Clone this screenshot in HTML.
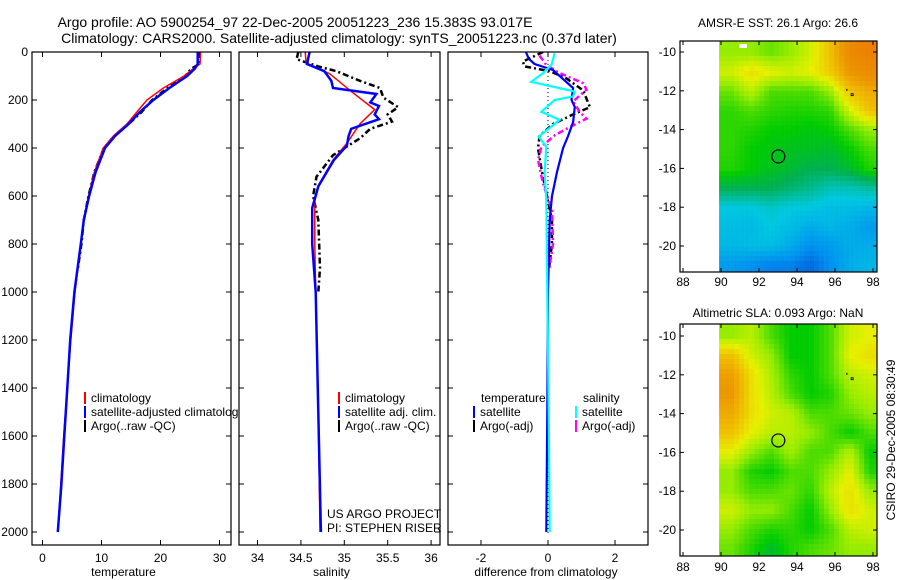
<!DOCTYPE html>
<html><head><meta charset="utf-8"><style>
html,body{margin:0;padding:0;background:#fff;}
svg{display:block;font-family:"Liberation Sans",sans-serif;}
</style></head><body>
<svg id="chart" width="900" height="580" viewBox="0 0 900 580" xmlns="http://www.w3.org/2000/svg">
<text x="295" y="27" font-size="14" text-anchor="middle">Argo profile: AO 5900254_97 22-Dec-2005 20051223_236 15.383S 93.017E</text>
<text x="339" y="43" font-size="14" text-anchor="middle">Climatology: CARS2000. Satellite-adjusted climatology: synTS_20051223.nc (0.37d later)</text>
<text x="778" y="27" font-size="12" text-anchor="middle">AMSR-E SST: 26.1 Argo: 26.6</text>
<text x="778" y="317" font-size="12" text-anchor="middle">Altimetric SLA: 0.093 Argo: NaN</text>
<text transform="translate(895,440) rotate(-90)" font-size="12" text-anchor="middle">CSIRO 29-Dec-2005 08:30:49</text>
<g id="plots"></g>
</svg>
<script>
// ---- data ----
const depthT = [0,50,70,100,150,200,250,300,350,400,500,600,700,800,1000,1200,1400,1600,1800,2000];
const climT  = [26.8,26.7,25.5,24,20.5,17.7,16,14.3,12,10.3,8.8,7.8,7.0,6.5,5.5,4.8,4.2,3.6,3.1,2.6];
const satT   = [26.3,26.3,25.8,24.5,21.5,18.8,16.5,14.6,12.3,10.6,9.0,7.9,7.0,6.5,5.4,4.7,4.2,3.7,3.2,2.6];
const depthArgoT = [0,50,70,100,150,200,250,300,350,400,500,600,700,800,900];
const argoT  = [26.6,26.6,25.2,24.2,21.2,18.6,16.8,14.6,12.2,10.4,8.8,7.8,7.0,6.6,6.0];

const depthS = [0,45,90,170,240,300,380,450,550,620,800,1000,1500,2000];
const climS  = [34.55,34.56,34.83,35.1,35.35,35.18,35.03,34.87,34.71,34.66,34.66,34.67,34.7,34.72];
const depthSatS = [0,50,80,120,150,175,210,225,260,280,320,350,390,450,560,650,800,1000,1500,2000];
const satS   = [34.6,34.57,34.77,34.85,34.87,35.37,35.3,35.4,35.35,35.4,35.08,35.05,35.03,34.88,34.7,34.63,34.63,34.67,34.7,34.73];
const depthArgoS = [0,30,60,80,120,150,190,230,260,290,320,360,430,520,600,700,900,1000];
const argoS  = [34.47,34.45,34.7,34.91,35.18,35.41,35.45,35.62,35.5,35.55,35.3,35.18,34.87,34.68,34.64,34.7,34.72,34.7];

const depthDTsat = [0,29,50,75,150,200,229,292,350,400,500,600,700,1000,1500,2000];
const dTsat  = [-0.66,-0.57,-0.4,0.15,0.75,0.7,0.8,0.75,0.6,0.45,0.27,0.12,0.05,0.0,-0.02,-0.05];
const depthDTargo = [0,40,60,80,110,160,230,260,300,350,400,500,600,700,800,900];
const dTargo = [-0.15,-0.75,-0.7,0.05,0.55,1.05,1.25,0.75,0.15,-0.25,-0.3,-0.18,-0.03,0.12,0.12,0.03];
const depthDSsat = [5,54,88,124,165,185,200,249,283,353,394,505,617,1000,1500,2000];
const dSsat  = [0.2,0.1,-0.15,-0.5,0.8,0.75,0.2,-0.2,0.35,-0.28,-0.05,-0.1,-0.05,-0.02,0.02,0.05];
const depthDSargo = [15,54,88,130,157,206,250,278,313,347,396,450,547,660,800,910];
const dSargo = [-0.25,-0.05,0.35,1.05,1.15,0.75,0.95,1.15,0.65,0.2,-0.2,-0.3,-0.15,0.12,0.15,0.03];

const depthTicks = [0,200,400,600,800,1000,1200,1400,1600,1800,2000];
const tempTicks = [0,10,20,30];
const salTicks = [34,34.5,35,35.5,36];
const diffTicks = [-2,0,2];
const lonTicks = [88,90,92,94,96,98];
const latTicks = [-10,-12,-14,-16,-18,-20];

const sstGrid = [
[0.55,0.55,0.52,0.55,0.6,0.7,0.85,0.9],
[0.6,0.65,0.62,0.6,0.62,0.68,0.8,0.85],
[0.52,0.58,0.5,0.5,0.5,0.55,0.7,0.75],
[0.48,0.5,0.48,0.47,0.47,0.48,0.6,0.7],
[0.48,0.47,0.45,0.45,0.44,0.45,0.5,0.55],
[0.48,0.45,0.44,0.43,0.43,0.42,0.45,0.5],
[0.47,0.45,0.43,0.42,0.4,0.4,0.42,0.47],
[0.4,0.4,0.4,0.38,0.36,0.33,0.33,0.35],
[0.3,0.3,0.32,0.3,0.3,0.28,0.28,0.27],
[0.28,0.27,0.3,0.28,0.25,0.27,0.25,0.22],
[0.27,0.28,0.28,0.25,0.2,0.22,0.25,0.25],
[0.22,0.2,0.18,0.18,0.15,0.2,0.25,0.27]];
const slaGrid = [
[0.55,0.58,0.5,0.45,0.45,0.5,0.6,0.62],
[0.7,0.6,0.55,0.45,0.45,0.5,0.62,0.65],
[0.78,0.65,0.57,0.48,0.45,0.5,0.58,0.6],
[0.8,0.65,0.58,0.5,0.45,0.47,0.55,0.58],
[0.75,0.65,0.6,0.58,0.5,0.5,0.52,0.55],
[0.7,0.62,0.58,0.58,0.55,0.5,0.45,0.5],
[0.62,0.55,0.5,0.56,0.5,0.5,0.58,0.45],
[0.55,0.47,0.45,0.5,0.5,0.55,0.62,0.47],
[0.55,0.5,0.5,0.52,0.48,0.58,0.65,0.55],
[0.6,0.55,0.55,0.5,0.45,0.55,0.65,0.6],
[0.55,0.5,0.47,0.48,0.45,0.5,0.58,0.6],
[0.52,0.47,0.42,0.47,0.5,0.52,0.55,0.55]];
const argoLon = 93.017, argoLat = -15.383;

// ---- drawing ----
const NS = "http://www.w3.org/2000/svg";
const root = document.getElementById('plots');
function mk(tag, attrs, parent){ const e=document.createElementNS(NS,tag); for(const k in attrs) e.setAttribute(k,attrs[k]); (parent||root).appendChild(e); return e; }
const yD = d => 52 + d*0.24;
const PT = 52, PB = 545;

function panel(name, x0, x1, xs, ticks, label, showY){
  const g = mk('g', {});
  
  
  const bg = mk('rect', {x:x0, y:PT, width:x1-x0, height:PB-PT, fill:'#fff'}, g);
  
  
  const clip = mk('clipPath', {id:'c'+name}, g);
  mk('rect', {x:x0, y:PT, width:x1-x0, height:PB-PT}, clip);
  const inner = mk('g', {'clip-path':'url(#c'+name+')'}, g);
  ticks.forEach(t=>{
    const x = xs(t);
    mk('line',{x1:x,x2:x,y1:PT,y2:PT+5,stroke:'#000'},g);
    mk('line',{x1:x,x2:x,y1:PB,y2:PB-5,stroke:'#000'},g);
    const tx = mk('text',{x:x,y:PB+17,'font-size':12,'text-anchor':'middle'},g);
    tx.textContent = t;
    
    
  });
  depthTicks.forEach(d=>{
    const y = yD(d);
    mk('line',{x1:x0,x2:x0+5,y1:y,y2:y,stroke:'#000'},g);
    mk('line',{x1:x1,x2:x1-5,y1:y,y2:y,stroke:'#000'},g);
    if(showY){
      const tx = mk('text',{x:x0-4,y:y+4,'font-size':12,'text-anchor':'end'},g);
      tx.textContent = d;
      
      
    }
  });
  const lb = mk('text',{x:(x0+x1)/2-(name==='diff-panel'?2:8),y:PB+31,'font-size':12,'text-anchor':'middle'},g);
  lb.textContent = label;
  
  
  return {g, inner};
}
function line(parent, xs, depths, vals, color, w, dash, name){
  const pts = depths.map((d,i)=> xs(vals[i]).toFixed(1)+','+yD(d).toFixed(1)).join(' ');
  const p = mk('polyline',{points:pts, fill:'none', stroke:color, 'stroke-width':w, 'stroke-dasharray':dash||'none'}, parent);
  
  
}
function frame(g,x0,x1){ mk('rect',{x:x0,y:PT,width:x1-x0,height:PB-PT,fill:'none',stroke:'#000','stroke-width':1.2},g); }
function legendRow(g,x,y,color,text,name){
  mk('rect',{x:x,y:y-10,width:2,height:12,fill:color},g);
  const t = mk('text',{x:x+7,y:y,'font-size':12},g);
  t.textContent = text;
  
  
}

// temperature panel
const xT = v => 42.5 + v*5.9;
const p1 = panel('temperature-panel', 32, 231, xT, tempTicks, 'temperature', true);
line(p1.inner, xT, depthArgoT, argoT, '#000', 2.5, '6,3,2,3', 'argo-temperature-line');
line(p1.inner, xT, depthT, climT, '#f00', 1.5, null, 'climatology-temperature-line');
line(p1.inner, xT, depthT, satT, '#0000ff', 2.5, null, 'satellite-temperature-line');
legendRow(p1.g, 84, 402, '#f00', 'climatology', 'legend-climatology');
legendRow(p1.g, 84, 416, '#00f', 'satellite-adjusted climatology', 'legend-satellite-adjusted');
legendRow(p1.g, 84, 430, '#000', 'Argo(..raw -QC)', 'legend-argo');
frame(p1.g,32,231);

// salinity panel
const xS = v => 257.5 + (v-34)*86.8;
const p2 = panel('salinity-panel', 239, 440, xS, salTicks, 'salinity', false);
line(p2.inner, xS, depthArgoS, argoS, '#000', 2.5, '6,3,2,3', 'argo-salinity-line');
line(p2.inner, xS, depthS, climS, '#f00', 1.5, null, 'climatology-salinity-line');
line(p2.inner, xS, depthSatS, satS, '#0000ff', 2.5, null, 'satellite-salinity-line');
legendRow(p2.g, 338, 402, '#f00', 'climatology', 'legend-climatology-sal');
legendRow(p2.g, 338, 416, '#00f', 'satellite adj. clim.', 'legend-satellite-sal');
legendRow(p2.g, 338, 430, '#000', 'Argo(..raw -QC)', 'legend-argo-sal');
const us = mk('text',{x:327,y:518,'font-size':12},p2.g); us.textContent='US ARGO PROJECT';
 
const pi = mk('text',{x:327,y:532,'font-size':12},p2.g); pi.textContent='PI: STEPHEN RISER';
 
frame(p2.g,239,440);

// difference panel
const xDf = v => 548 + v*33.5;
const p3 = panel('diff-panel', 448, 648, xDf, diffTicks, 'difference from climatology', false);
mk('line',{x1:xDf(0),x2:xDf(0),y1:PT,y2:PB-10,stroke:'#000','stroke-dasharray':'1,3'},p3.inner);
line(p3.inner, xDf, depthDTargo, dTargo, '#000', 2.5, '6,3,2,3', 'argo-temp-diff-line');
line(p3.inner, xDf, depthDSargo, dSargo, '#ff00ff', 2.5, '6,3,2,3', 'argo-sal-diff-line');
line(p3.inner, xDf, depthDTsat, dTsat, '#0000ff', 2.2, null, 'satellite-temp-diff-line');
line(p3.inner, xDf, depthDSsat, dSsat, '#00ffff', 2.2, null, 'satellite-sal-diff-line');
const lt = mk('text',{x:481,y:402,'font-size':12},p3.g); lt.textContent='temperature';
 
const ls = mk('text',{x:583,y:402,'font-size':12},p3.g); ls.textContent='salinity';
 
legendRow(p3.g, 473, 416, '#00f', 'satellite', 'legend-temp-satellite');
legendRow(p3.g, 473, 430, '#000', 'Argo(-adj)', 'legend-temp-argo');
legendRow(p3.g, 575, 416, '#0ff', 'satellite', 'legend-sal-satellite');
legendRow(p3.g, 575, 430, '#f0f', 'Argo(-adj)', 'legend-sal-argo');
frame(p3.g,448,648);

// maps
const stops = [[0.1,[0,64,208]],[0.2,[0,144,240]],[0.3,[0,200,224]],[0.4,[0,176,80]],[0.45,[0,204,0]],[0.55,[150,236,0]],[0.62,[230,240,0]],[0.7,[240,192,0]],[0.8,[236,150,0]],[0.9,[236,128,0]]];
function cmap(v){
  if(v<=stops[0][0]) return stops[0][1];
  for(let i=1;i<stops.length;i++){ if(v<=stops[i][0]){ const a=stops[i-1],b=stops[i],t=(v-a[0])/(b[0]-a[0]); return a[1].map((c,k)=>Math.round(c+(b[1][k]-c)*t)); } }
  return stops[stops.length-1][1];
}
function map(name, grid, top, bottom, lat10y, lat20y, labelY){
  const g = mk('g',{});
  
  
  const L=680, R=877;
  const xl = lon => 683 + (lon-88)*19;
  const yl = lat => lat10y + (-10-lat)*(lat20y-lat10y)/10;
  const dx0=xl(89.9), dx1=R, dy0=top, dy1=bottom;
  const nr=grid.length, nc=grid[0].length, cell=5;
  for(let y=dy0;y<dy1;y+=cell){
    for(let x=dx0;x<dx1;x+=cell){
      const fx=Math.min(nc-1.001,Math.max(0,(x-dx0)/(dx1-dx0)*nc-0.5));
      const fy=Math.min(nr-1.001,Math.max(0,(y-dy0)/(dy1-dy0)*nr-0.5));
      const i=Math.floor(fy), j=Math.floor(fx), ty=fy-i, tx=fx-j;
      const v=grid[i][j]*(1-tx)*(1-ty)+grid[i][j+1]*tx*(1-ty)+grid[i+1][j]*(1-tx)*ty+grid[i+1][j+1]*tx*ty;
      const c=cmap(v);
      mk('rect',{x:x,y:y,width:Math.min(cell,dx1-x)+0.3,height:Math.min(cell,dy1-y)+0.3,fill:'rgb('+c+')'},g);
    }
  }
  const c = mk('circle',{cx:xl(argoLon),cy:yl(argoLat),r:6.5,fill:'none',stroke:'#000','stroke-width':1.2},g);
  
  
  mk('rect',{x:xl(96.85),y:yl(-12.2)-1,width:2,height:2,fill:'none',stroke:'#000','stroke-width':0.8},g);
  mk('rect',{x:xl(96.6),y:yl(-11.9),width:1,height:2,fill:'#000'},g);
  lonTicks.forEach(t=>{
    const x=xl(t);
    mk('line',{x1:x,x2:x,y1:top,y2:top+4,stroke:'#000'},g);
    mk('line',{x1:x,x2:x,y1:bottom,y2:bottom-4,stroke:'#000'},g);
    const tx=mk('text',{x:x,y:labelY,'font-size':12,'text-anchor':'middle'},g); tx.textContent=t;
     
  });
  latTicks.forEach(t=>{
    const y=yl(t);
    mk('line',{x1:L,x2:L+4,y1:y,y2:y,stroke:'#000'},g);
    mk('line',{x1:R,x2:R-4,y1:y,y2:y,stroke:'#000'},g);
    const tx=mk('text',{x:L-4,y:y+4,'font-size':12,'text-anchor':'end'},g); tx.textContent=t;
     
  });
  mk('rect',{x:L,y:top,width:R-L,height:bottom-top,fill:'none',stroke:'#000','stroke-width':1.2},g);
}
map('sst-map', sstGrid, 41, 272, 52, 246, 286);
mk('rect',{x:739,y:44,width:8,height:4,fill:'#fff'});
map('sla-map', slaGrid, 324, 556, 336, 530, 571);
</script>
</body></html>
